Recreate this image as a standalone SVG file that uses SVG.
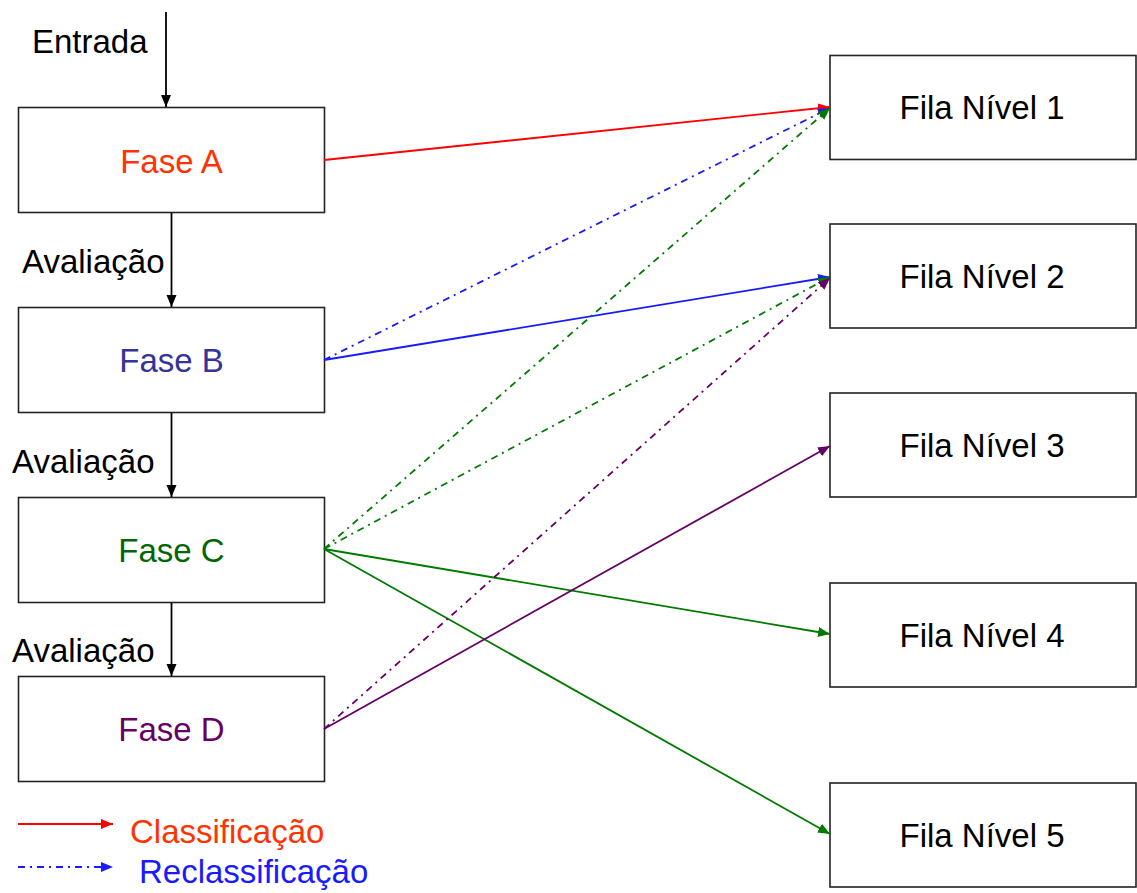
<svg xmlns="http://www.w3.org/2000/svg" width="1137" height="893" viewBox="0 0 1137 893">
<style>
.box{fill:#fff;stroke:#222;stroke-width:1.6}
text{font-family:"Liberation Sans",Arial,sans-serif;font-size:33px}
.c{text-anchor:middle}
.ln{fill:none;stroke-width:1.8}
.dd{stroke-dasharray:7,5,2,5}
</style>
<defs>
<marker id="mk" markerUnits="userSpaceOnUse" markerWidth="14" markerHeight="12" refX="12" refY="5" orient="auto"><path d="M0,0 L12,5 L0,10 z" fill="#000"/></marker>
<marker id="mr" markerUnits="userSpaceOnUse" markerWidth="14" markerHeight="12" refX="12" refY="5" orient="auto"><path d="M0,0 L12,5 L0,10 z" fill="#ff0000"/></marker>
<marker id="mb" markerUnits="userSpaceOnUse" markerWidth="14" markerHeight="12" refX="12" refY="5" orient="auto"><path d="M0,0 L12,5 L0,10 z" fill="#1a1aff"/></marker>
<marker id="mg" markerUnits="userSpaceOnUse" markerWidth="14" markerHeight="12" refX="12" refY="5" orient="auto"><path d="M0,0 L12,5 L0,10 z" fill="#007a00"/></marker>
<marker id="mp" markerUnits="userSpaceOnUse" markerWidth="14" markerHeight="12" refX="12" refY="5" orient="auto"><path d="M0,0 L12,5 L0,10 z" fill="#660066"/></marker>
</defs>
<rect width="1137" height="893" fill="#fff"/>
<g id="faseA"><rect class="box" x="18.5" y="107.5" width="306" height="105"/><text class="c" x="171.5" y="173" fill="#ff3300">Fase A</text></g>
<g id="faseB"><rect class="box" x="18.5" y="307.5" width="306" height="105"/><text class="c" x="171.5" y="372" fill="#333399">Fase B</text></g>
<g id="faseC"><rect class="box" x="18.5" y="497.5" width="306" height="105"/><text class="c" x="171.5" y="562" fill="#006600">Fase C</text></g>
<g id="faseD"><rect class="box" x="18.5" y="676.5" width="306" height="105"/><text class="c" x="171.5" y="741" fill="#660066">Fase D</text></g>
<g id="fila1"><rect class="box" x="830" y="55.5" width="306" height="104"/><text class="c" x="982" y="119">Fila Nível 1</text></g>
<g id="fila2"><rect class="box" x="830" y="224" width="306" height="104"/><text class="c" x="982" y="288">Fila Nível 2</text></g>
<g id="fila3"><rect class="box" x="830" y="393" width="306" height="104"/><text class="c" x="982" y="457">Fila Nível 3</text></g>
<g id="fila4"><rect class="box" x="830" y="583" width="306" height="104"/><text class="c" x="982" y="647">Fila Nível 4</text></g>
<g id="fila5"><rect class="box" x="830" y="783" width="306" height="104"/><text class="c" x="982" y="847">Fila Nível 5</text></g>
<g id="labels">
<text x="32" y="53">Entrada</text>
<text x="22" y="273">Avaliação</text>
<text x="12" y="473">Avaliação</text>
<text x="12" y="662">Avaliação</text>
</g>
<g id="connectors">
<line class="ln" stroke="#000" x1="166" y1="12" x2="166" y2="107" marker-end="url(#mk)"/>
<line class="ln" stroke="#000" x1="171.5" y1="213" x2="171.5" y2="307" marker-end="url(#mk)"/>
<line class="ln" stroke="#000" x1="171.5" y1="413" x2="171.5" y2="497" marker-end="url(#mk)"/>
<line class="ln" stroke="#000" x1="171.5" y1="603" x2="171.5" y2="676" marker-end="url(#mk)"/>
<line class="ln" stroke="#ff0000" x1="324" y1="160" x2="830" y2="107" marker-end="url(#mr)"/>
<line class="ln dd" stroke="#1a1aff" x1="324" y1="360" x2="830" y2="108" marker-end="url(#mb)"/>
<line class="ln" stroke="#1a1aff" x1="324" y1="360" x2="830" y2="277" marker-end="url(#mb)"/>
<line class="ln dd" stroke="#007a00" x1="324" y1="549" x2="830" y2="108" marker-end="url(#mg)"/>
<line class="ln dd" stroke="#007a00" x1="324" y1="549" x2="830" y2="277" marker-end="url(#mg)"/>
<line class="ln" stroke="#007a00" x1="324" y1="549" x2="830" y2="634" marker-end="url(#mg)"/>
<line class="ln" stroke="#007a00" x1="324" y1="549" x2="830" y2="834" marker-end="url(#mg)"/>
<line class="ln dd" stroke="#660066" x1="324" y1="729" x2="830" y2="278" marker-end="url(#mp)"/>
<line class="ln" stroke="#660066" x1="324" y1="729" x2="830" y2="446" marker-end="url(#mp)"/>
</g>
<g id="legend">
<line class="ln" stroke="#ff0000" x1="18" y1="824" x2="113" y2="824" marker-end="url(#mr)"/>
<text x="130" y="843" fill="#ff3300">Classificação</text>
<line class="ln dd" stroke="#1a1aff" x1="18" y1="867" x2="113" y2="867" marker-end="url(#mb)"/>
<text x="139" y="883" fill="#1a1aff">Reclassificação</text>
</g>
</svg>
